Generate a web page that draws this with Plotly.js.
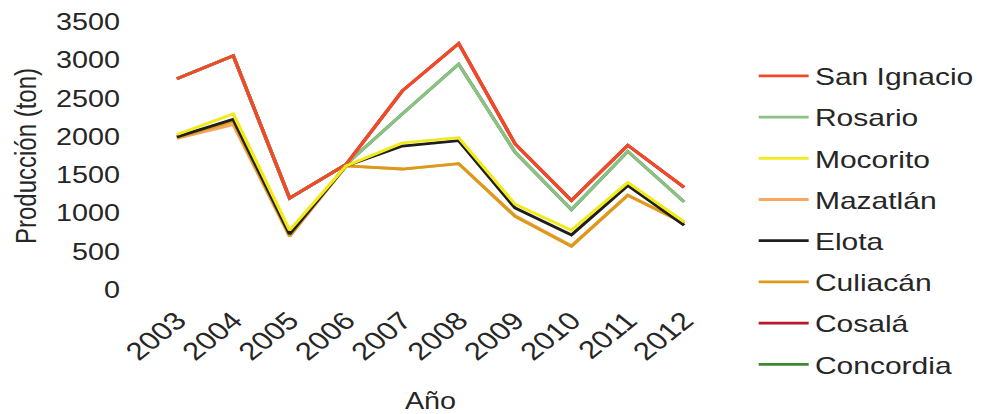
<!DOCTYPE html>
<html>
<head>
<meta charset="utf-8">
<script src="https://cdn.plot.ly/plotly-3.0.1.min.js"></script>
<style>
html,body{margin:0;padding:0;background:#fff;overflow:hidden;width:981px;height:414px;}
#chart{width:785px;height:414px;transform:scaleX(1.2497);transform-origin:0 0;}
</style>
</head>
<body>
<div id="chart"></div>
<script>
const years = ["2003","2004","2005","2006","2007","2008","2009","2010","2011","2012"];
const sanIgnacio = [2760, 3060, 1200, 1640, 2600, 3220, 1910, 1170, 1890, 1340];
const rosario    = [2760, 3060, 1200, 1640, 2300, 2950, 1800, 1050, 1810, 1150];
const mocorito   = [2030, 2300, 780, 1620, 1920, 1990, 1120, 780, 1405, 890];
const mazatlan   = [1980, 2160, 700, 1620, 1580, 1650, 970, 580, 1240, 880];
const elota      = [2000, 2230, 730, 1620, 1880, 1950, 1070, 720, 1365, 845];
const culiacan   = [1990, 2200, 710, 1620, 1580, 1650, 960, 570, 1236, 870];
const cosala     = [2760, 3060, 1200, 1640, 2600, 3220, 1910, 1170, 1890, 1340];
const concordia  = [2760, 3060, 1200, 1640, 2300, 2950, 1800, 1050, 1810, 1150];

const seriesNames = ["San Ignacio","Rosario","Mocorito","Mazatlán","Elota","Culiacán","Cosalá","Concordia"];
const seriesValues = [sanIgnacio, rosario, mocorito, mazatlan, elota, culiacan, cosala, concordia];
const seriesColors = ["#f04a28","#8cc084","#f2ea1a","#f5a860","#1e1e1e","#dc9a1c","#b8182a","#3a8a30"];
// drawing order (bottom to top)
const drawOrder = [7, 6, 1, 0, 3, 5, 4, 2];

const traces = drawOrder.map(i => ({
  type: "scatter",
  mode: "lines",
  x: years,
  y: seriesValues[i],
  name: seriesNames[i],
  legendrank: i + 1,
  legendgroup: "g" + i,
  line: {color: seriesColors[i], width: 2.8},
  hoverinfo: "skip"
}));

const fam = "Liberation Sans, Arial, sans-serif";
const col = "#262626";
const layout = {
  width: 785, height: 414,
  margin: {l: 119, r: 215, t: 22, b: 124, autoexpand: false},
  paper_bgcolor: "#fff", plot_bgcolor: "#fff",
  font: {family: fam, size: 23, color: col},
  showlegend: true,
  legend: {
    xref: "container", yref: "container",
    x: 0.767, xanchor: "left", y: 0.87, yanchor: "top",
    font: {family: fam, size: 24, color: col},
    tracegroupgap: 7, itemwidth: 40, maxheight: 414,
    bgcolor: "rgba(0,0,0,0)"
  },
  xaxis: {
    type: "category", range: [-0.5, 9.5], automargin: false,
    showgrid: false, zeroline: false, showline: false,
    tickangle: -45, ticks: "", ticklabelstandoff: 10,
    tickfont: {family: fam, size: 25, color: col},
    title: {text: "Año", font: {family: fam, size: 23, color: col}, standoff: 28}
  },
  yaxis: {
    range: [0, 3500], dtick: 500, automargin: false,
    showgrid: false, zeroline: false, showline: false,
    ticks: "", ticklabelstandoff: 22,
    tickfont: {family: fam, size: 23, color: col},
    title: {text: "Producción (ton)", font: {family: fam, size: 24, color: col}, standoff: 8}
  }
};
Plotly.newPlot("chart", traces, layout, {displayModeBar: false, staticPlot: true});
</script>
</body>
</html>
